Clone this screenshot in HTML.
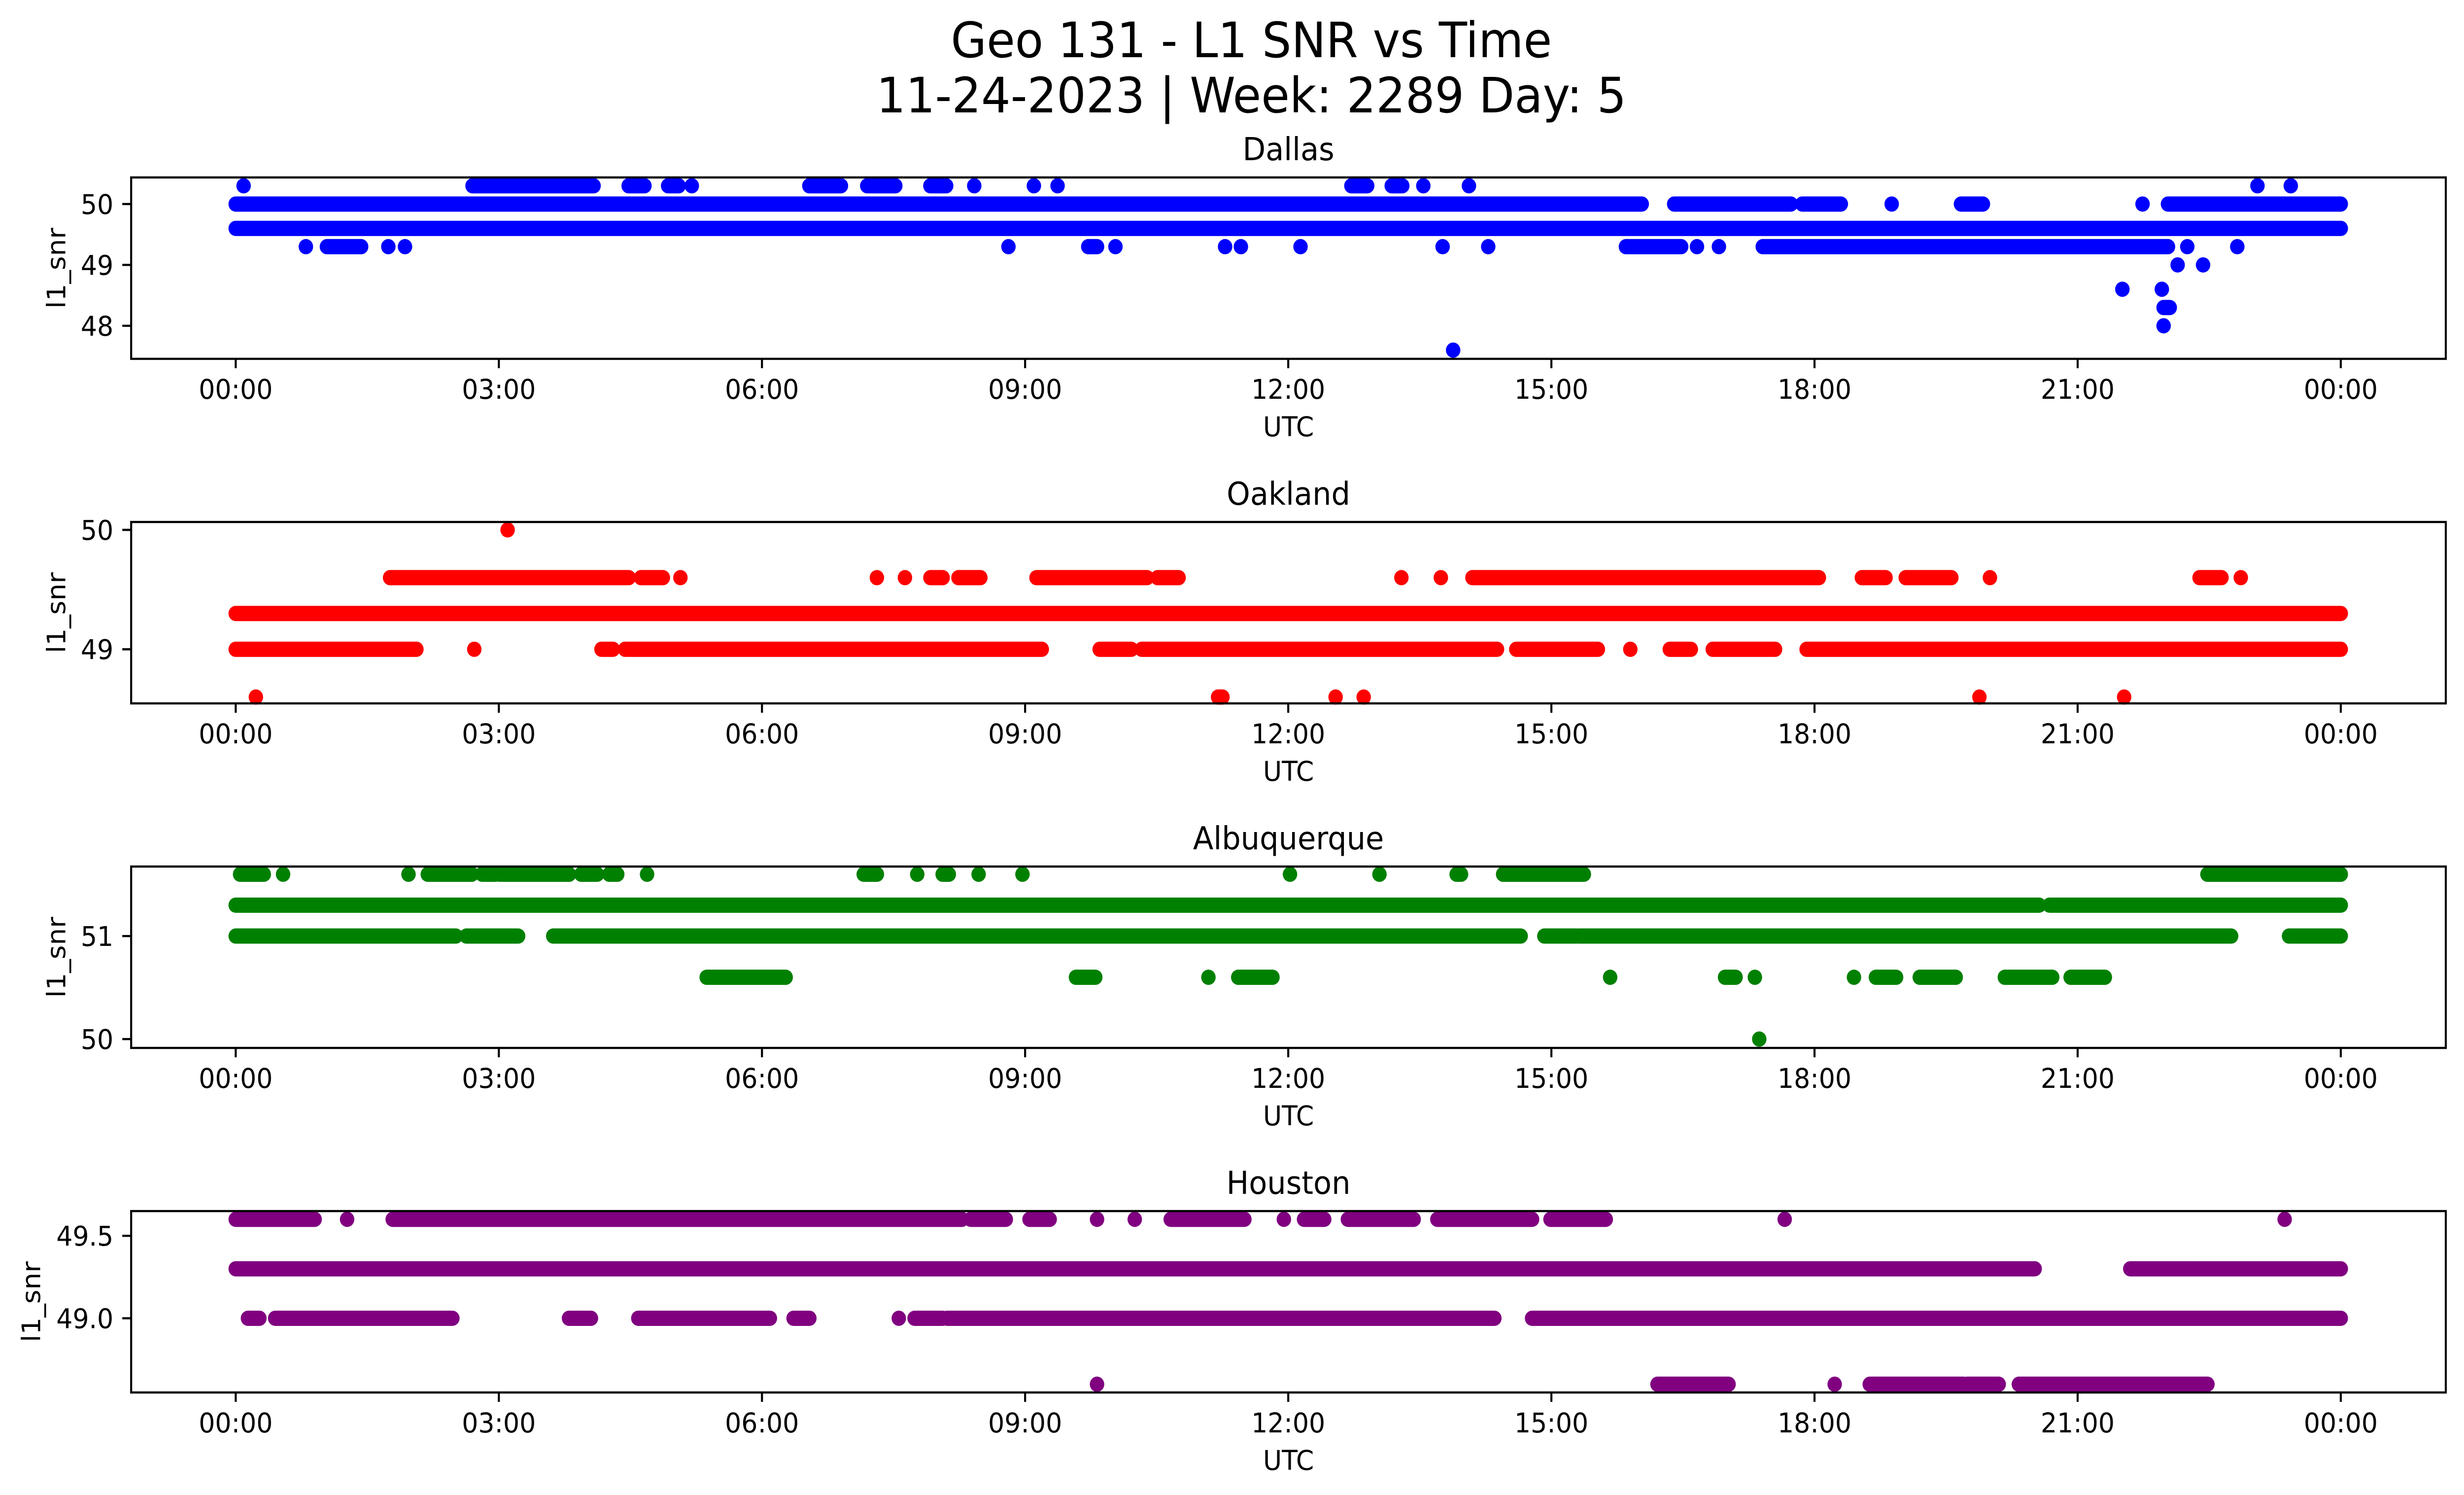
<!DOCTYPE html>
<html><head><meta charset="utf-8"><style>
html,body{margin:0;padding:0;background:#fff;width:100%;height:100%;overflow:hidden;}
svg{display:block;position:absolute;left:0;top:0;width:100vw;height:100vh;font-family:"DejaVu Sans","Liberation Sans",sans-serif;}
</style></head><body>
<svg id="fig" viewBox="0 0 5279 3033" preserveAspectRatio="none" xmlns="http://www.w3.org/2000/svg">
<rect width="5279" height="3033" fill="#fff"/>
<text x="2681" y="116" font-size="99" text-anchor="middle">Geo 131 - L1 SNR vs Time</text>
<text x="2681" y="228" font-size="99" text-anchor="middle">11-24-2023 | Week: 2289 Day: 5</text>
<g id="plots"></g>
</svg>
<script>
// x-axis ticks (hours) and labels
const xTickHours = [0,3,6,9,12,15,18,21,24];
const xTickLabels = ["00:00","03:00","06:00","09:00","12:00","15:00","18:00","21:00","00:00"];

// Dallas: runs [startHour, endHour] per SNR level
const dallasLevels = [50.3, 50.0, 49.6, 49.3, 49.0, 48.6, 48.3, 48.0, 47.6];
const dallasRuns = [
  [[0.09,0.09],[2.7,4.08],[4.48,4.66],[4.93,5.05],[5.2,5.2],[6.54,6.9],[7.2,7.52],[7.92,8.1],[8.42,8.42],[9.1,9.1],[9.37,9.37],[12.72,12.9],[13.18,13.3],[13.54,13.54],[14.06,14.06],[23.05,23.05],[23.43,23.43]],
  [[0,16.03],[16.4,17.73],[17.86,18.3],[18.88,18.88],[19.67,19.92],[21.74,21.74],[22.03,24]],
  [[0,24]],
  [[0.8,0.8],[1.04,1.43],[1.74,1.74],[1.93,1.93],[8.81,8.81],[9.72,9.82],[10.03,10.03],[11.28,11.28],[11.46,11.46],[12.14,12.14],[13.76,13.76],[14.28,14.28],[15.85,16.48],[16.66,16.66],[16.91,16.91],[17.41,22.03],[22.25,22.25],[22.82,22.82]],
  [[22.14,22.14],[22.43,22.43]],
  [[21.51,21.51],[21.96,21.96]],
  [[21.98,22.05]],
  [[21.98,21.98]],
  [[13.88,13.88]]
];
// Oakland
const oaklandLevels = [50.0, 49.6, 49.3, 49.0, 48.6];
const oaklandRuns = [
  [[3.1,3.1]],
  [[1.76,4.48],[4.62,4.87],[5.07,5.07],[7.31,7.31],[7.63,7.63],[7.92,8.06],[8.24,8.49],[9.13,10.39],[10.51,10.75],[13.29,13.29],[13.74,13.74],[14.1,18.05],[18.54,18.81],[19.04,19.56],[20.0,20.0],[22.39,22.64],[22.86,22.86]],
  [[0,24]],
  [[0,2.06],[2.72,2.72],[4.17,4.3],[4.44,9.19],[9.85,10.21],[10.33,14.38],[14.6,15.53],[15.9,15.9],[16.35,16.59],[16.84,17.55],[17.91,24]],
  [[0.23,0.23],[11.2,11.25],[12.54,12.54],[12.86,12.86],[19.88,19.88],[21.53,21.53]]
];
// Albuquerque
const albqLevels = [51.6, 51.3, 51.0, 50.6, 50.0];
const albqRuns = [
  [[0.05,0.32],[0.54,0.54],[1.97,1.97],[2.19,2.69],[2.81,2.96],[3.01,3.8],[3.94,4.12],[4.26,4.35],[4.69,4.69],[7.16,7.31],[7.77,7.77],[8.06,8.13],[8.47,8.47],[8.97,8.97],[12.02,12.02],[13.04,13.04],[13.92,13.97],[14.45,15.37],[22.48,24]],
  [[0,20.56],[20.68,24]],
  [[0,2.51],[2.63,3.22],[3.62,14.65],[14.92,15.28],[15.31,22.75],[23.41,24]],
  [[5.37,6.27],[9.58,9.8],[11.09,11.09],[11.43,11.82],[15.67,15.67],[16.98,17.1],[17.32,17.32],[18.45,18.45],[18.7,18.93],[19.2,19.61],[20.17,20.71],[20.92,21.31]],
  [[17.37,17.37]]
];
// Houston
const houstonLevels = [49.6, 49.3, 49.0, 48.6];
const houstonRuns = [
  [[0,0.9],[1.27,1.27],[1.79,8.28],[8.38,8.78],[9.05,9.28],[9.82,9.82],[10.25,10.25],[10.66,11.5],[11.95,11.95],[12.18,12.41],[12.68,13.43],[13.7,14.78],[14.99,15.62],[17.66,17.66],[23.36,23.36]],
  [[0,20.51],[21.6,24]],
  [[0.14,0.27],[0.45,2.47],[3.8,4.05],[4.59,6.09],[6.36,6.54],[7.56,7.56],[7.74,8.06],[8.11,14.35],[14.78,24]],
  [[9.82,9.82],[16.21,17.02],[18.23,18.23],[18.63,19.7],[19.74,20.1],[20.33,22.48]]
];

const dallasYTicks = [48,49,50], dallasYLabels = ["48","49","50"];
const oaklandYTicks = [49,50], oaklandYLabels = ["49","50"];
const albqYTicks = [50,51], albqYLabels = ["50","51"];
const houstonYTicks = [49.0,49.5], houstonYLabels = ["49.0","49.5"];

const NS = "http://www.w3.org/2000/svg";
const L = 281, R = 5240, H = 368, R0 = 15.5;
const X0 = 505, X1 = 5015;
function xScale(h){ return X0 + (X1 - X0) * h / 24; }

const panels = [
  {name:"dallas", title:"Dallas", top:360, ymin:47.457, ymax:50.437, levels:dallasLevels, runs:dallasRuns, color:"#0000ff", yt:dallasYTicks, yl:dallasYLabels, labx:120},
  {name:"oakland", title:"Oakland", top:1059, ymin:48.547, ymax:50.066, levels:oaklandLevels, runs:oaklandRuns, color:"#ff0000", yt:oaklandYTicks, yl:oaklandYLabels, labx:120},
  {name:"albuquerque", title:"Albuquerque", top:1758, ymin:49.914, ymax:51.675, levels:albqLevels, runs:albqRuns, color:"#008000", yt:albqYTicks, yl:albqYLabels, labx:120},
  {name:"houston", title:"Houston", top:2457, ymin:48.55, ymax:49.65, levels:houstonLevels, runs:houstonRuns, color:"#800080", yt:houstonYTicks, yl:houstonYLabels, labx:66}
];
const root = document.getElementById("plots");
function mk(tag, attrs, parent){ const e=document.createElementNS(NS,tag); for(const k in attrs) e.setAttribute(k,attrs[k]); parent.appendChild(e); return e; }

panels.forEach(p=>{
  const g = mk("g",{},root);
  
  
  const B = p.top + H;
  const yScale = v => B - (v - p.ymin) / (p.ymax - p.ymin) * H;
  const marks = mk("g",{},g);
  
  
  p.levels.forEach((lv,i)=>{
    p.runs[i].forEach(r=>{
      const y = yScale(lv);
      if (r[0] === r[1]) {
        const c = mk("circle",{cx:xScale(r[0]),cy:y,r:R0,fill:p.color},marks);
        
        
      } else {
        const ln = mk("line",{x1:xScale(r[0]),x2:xScale(r[1]),y1:y,y2:y,stroke:p.color,"stroke-width":R0*2,"stroke-linecap":"round"},marks);
        
        
      }
    });
  });
  const frame = mk("rect",{x:L,y:p.top,width:R-L,height:H,fill:"none",stroke:"#000","stroke-width":4.4},g);
  
  
  xTickHours.forEach((h,i)=>{
    const x = xScale(h);
    const t = mk("line",{x1:x,x2:x,y1:B,y2:B+19,stroke:"#000","stroke-width":4.4},g);
    
    
    const tx = mk("text",{x:x,y:B+81,"font-size":55,"text-anchor":"middle"},g);
    
    
    tx.textContent = xTickLabels[i];
  });
  p.yt.forEach((v,i)=>{
    const y = yScale(v);
    const t = mk("line",{x1:L-19,x2:L,y1:y,y2:y,stroke:"#000","stroke-width":4.4},g);
    
    
    const tx = mk("text",{x:L-38,y:y+20,"font-size":55,"text-anchor":"end"},g);
    
    
    tx.textContent = p.yl[i];
  });
  const ttl = mk("text",{x:(L+R)/2,y:p.top-35,"font-size":64,"text-anchor":"middle"},g);
  
  
  ttl.textContent = p.title;
  const xl = mk("text",{x:(L+R)/2,y:B+157,"font-size":55,"text-anchor":"middle"},g);
  
  
  xl.textContent = "UTC";
  const cy = p.top + H/2;
  const yl = mk("text",{x:p.labx+20,y:cy,"font-size":55,"text-anchor":"middle",transform:`rotate(-90 ${p.labx+20} ${cy})`},g);
  
  
  yl.textContent = "l1_snr";
});
</script>
</body></html>
